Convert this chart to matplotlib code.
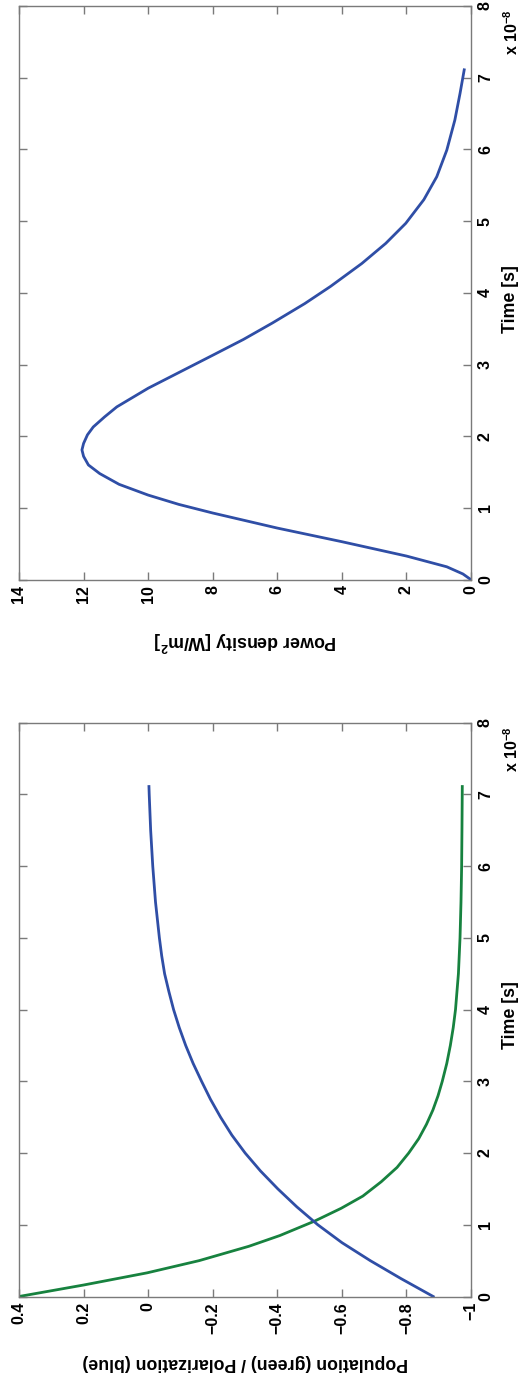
import numpy as np
import matplotlib
matplotlib.use('Agg')
import matplotlib.pyplot as plt

plt.rcParams['font.family'] = ['Liberation Sans', 'DejaVu Sans']
plt.rcParams['font.weight'] = 'bold'
plt.rcParams['mathtext.fontset'] = 'custom'
plt.rcParams['mathtext.rm'] = 'Liberation Sans:bold'
plt.rcParams['mathtext.bf'] = 'Liberation Sans:bold'
plt.rcParams['mathtext.default'] = 'rm'

# time axis in units of 1e-8 s
power_t = [0, 0.08, 0.18, 0.33, 0.53, 0.72, 0.93, 1.05, 1.18, 1.33, 1.48, 1.60, 1.72,
           1.81, 1.90, 2.02, 2.13, 2.27, 2.41, 2.67, 2.90, 3.13, 3.35, 3.58, 3.85,
           4.09, 4.41, 4.69, 4.97, 5.30, 5.62, 5.99, 6.41, 6.78, 7.11]
power = [0, 0.25, 0.75, 2.0, 4.0, 6.0, 8.0, 9.05, 10.0, 10.9, 11.5, 11.85, 12.0,
         12.05, 12.0, 11.88, 11.7, 11.35, 10.97, 10.0, 9.0, 8.0, 7.05, 6.15, 5.15,
         4.35, 3.38, 2.64, 2.02, 1.46, 1.06, 0.75, 0.50, 0.34, 0.21]

green_t = [0, 0.16, 0.33, 0.50, 0.70, 0.85, 1.05, 1.23, 1.40, 1.60, 1.80, 2.0, 2.2,
           2.4, 2.6, 2.8, 3.0, 3.25, 3.5, 3.75, 4.0, 4.5, 5.0, 5.5, 6.0, 6.5, 7.11]
population = [0.4, 0.2, 0.003, -0.158, -0.312, -0.408, -0.515, -0.598, -0.665,
              -0.722, -0.771, -0.807, -0.838, -0.862, -0.882, -0.898, -0.911,
              -0.925, -0.936, -0.945, -0.952, -0.961, -0.966, -0.969, -0.971,
              -0.972, -0.973]

blue_t = [0, 0.25, 0.5, 0.75, 1.0, 1.25, 1.5, 1.75, 2.0, 2.25, 2.5, 2.75, 3.0,
          3.25, 3.5, 3.75, 4.0, 4.25, 4.5, 4.75, 5.0, 5.5, 6.0, 6.5, 7.0, 7.11]
polarization = [-0.883, -0.783, -0.688, -0.6005, -0.5255, -0.4605, -0.4018,
                -0.348, -0.3005, -0.2593, -0.2243, -0.193, -0.1655, -0.1393,
                -0.1163, -0.0963, -0.0788, -0.0643, -0.051, -0.042, -0.0348,
                -0.0228, -0.0143, -0.0078, -0.0033, -0.0025]

time_ticks = [0, 1, 2, 3, 4, 5, 6, 7, 8]
power_ticks = [14, 12, 10, 8, 6, 4, 2, 0]
pop_ticks = [0.4, 0.2, 0, -0.2, -0.4, -0.6, -0.8, -1]
pop_labels = ['0.4', '0.2', '0', '\u22120.2', '\u22120.4', '\u22120.6', '\u22120.8', '\u22121']

blue = '#2f4ea6'
green = '#17823f'
spine = '#7a7a7a'

W, H = 526, 1384
fig = plt.figure(figsize=(W / 100, H / 100), dpi=100)

# axes boxes in pixels (left, top, right, bottom)
boxes = [(19, 6, 471, 579.7), (19, 722.7, 471, 1296.5)]


def make_axes(box):
    l, t, r, b = box
    ax = fig.add_axes([l / W, 1 - b / H, (r - l) / W, (b - t) / H])
    for s in ax.spines.values():
        s.set_color(spine)
        s.set_linewidth(1.0)
    ax.yaxis.tick_right()
    ax.tick_params(which='both', direction='in', length=6, width=1, color=spine,
                   left=True, right=True, top=True, bottom=True,
                   labelleft=False, labelright=True, labelsize=11.5)
    ax.tick_params(axis='y', pad=5)
    ax.tick_params(axis='x', pad=4)
    ax.set_ylim(0, 8)
    ax.set_yticks(time_ticks)
    ax.set_yticklabels([str(v) for v in time_ticks], rotation=90, va='center')
    ax.yaxis.set_label_position('right')
    ax.set_ylabel('Time [s]', rotation=90, fontsize=12.8, fontweight='bold')
    ax.yaxis.set_label_coords(1 + (502 - r) / (r - l), 0.49)
    ax.text(1 + (502 - r) / (r - l), 1 - 49 / (b - t), r'x 10$^{-8}$',
            transform=ax.transAxes, rotation=90, ha='left', va='bottom',
            fontsize=11.5, fontweight='bold')
    return ax


ax1 = make_axes(boxes[0])
ax1.plot(power, power_t, color=blue, lw=2.0)
ax1.set_xlim(14, 0)
ax1.set_xticks(power_ticks)
ax1.set_xticklabels([str(v) for v in power_ticks], rotation=90)
ax1.set_xlabel('Power density [W/m$^2$]', rotation=180, fontsize=12.8, fontweight='bold')
ax1.xaxis.set_label_coords(0.5, -(629 - 579.7) / (579.7 - 6))

ax2 = make_axes(boxes[1])
ax2.plot(population, green_t, color=green, lw=2.0)
ax2.plot(polarization, blue_t, color=blue, lw=2.0)
ax2.set_xlim(0.4, -1)
ax2.set_xticks(pop_ticks)
ax2.set_xticklabels(pop_labels, rotation=90)
ax2.set_xlabel('Population (green) / Polarization (blue)', rotation=180,
               fontsize=12.8, fontweight='bold')
ax2.xaxis.set_label_coords(0.5, -(1354 - 1296.5) / (1296.5 - 722.7))

fig.savefig('out.png', dpi=100)
